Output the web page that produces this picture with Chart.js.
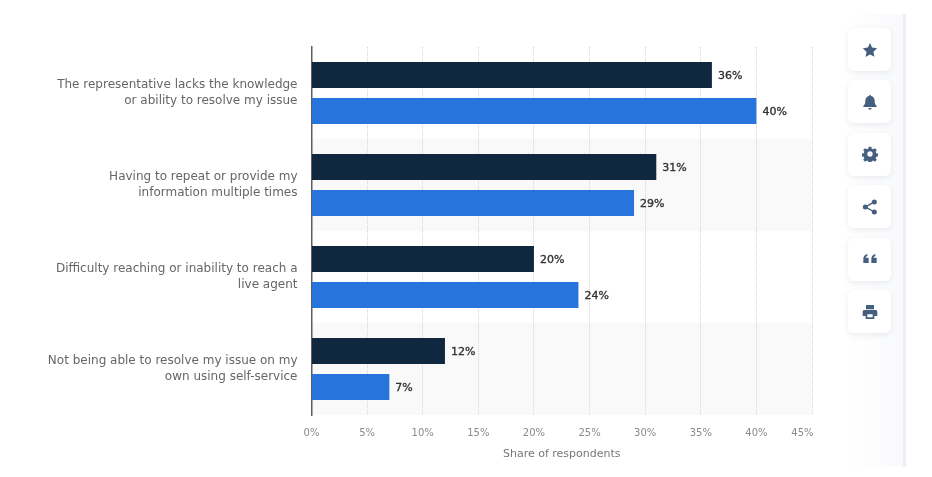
<!DOCTYPE html>
<html>
<head>
<meta charset="utf-8">
<script src="https://cdn.jsdelivr.net/npm/chart.js@4/dist/chart.umd.min.js"></script>
<style>
  html, body { margin: 0; padding: 0; background: #fff; width: 932px; height: 477px; overflow: hidden; }
  #chart { position: absolute; left: 0; top: 0; filter: blur(0.4px); }
  #rail { position: absolute; left: 846px; top: 14px; width: 57px; height: 453px; background: linear-gradient(to right, #fff, #f9fafc); border-right: 3px solid #eceef3; }
  .btn { position: absolute; left: 848px; width: 43px; height: 43px; background: #fff; border-radius: 6px; box-shadow: 0 2px 6px rgba(60, 80, 110, .10); display: flex; align-items: center; justify-content: center; filter: blur(0.4px); }
  .btn svg { width: 16px; height: 16px; fill: #45607f; }
</style>
</head>
<body>
<div id="rail"></div>
<canvas id="chart" width="932" height="477"></canvas>
<div id="buttons"></div>
<script>
const categories = [
    ['The representative lacks the knowledge', 'or ability to resolve my issue'],
    ['Having to repeat or provide my', 'information multiple times'],
    ['Difficulty reaching or inability to reach a', 'live agent'],
    ['Not being able to resolve my issue on my', 'own using self-service']
];
const darkValues = [36, 31, 20, 12];
const blueValues = [40, 29, 24, 7];
const axisMax = 45;
const axisStep = 5;
const axisTitle = 'Share of respondents';

const font = '"DejaVu Sans", sans-serif';

// --- Side buttons ---
const icons = [
    '<path d="M12 1.5l3.2 6.9 7.5.9-5.5 5.2 1.4 7.5L12 18.8l-6.6 3.7 1.4-7.5L1.3 9.3l7.5-.9z"/>',
    '<path d="M12 1.5c-.9 0-1.5.6-1.5 1.4C7 3.6 5 6.4 5 10c0 4-1 6-3 8v1.5h20V18c-2-2-3-4-3-8 0-3.6-2-6.4-5.5-7.1 0-.8-.6-1.4-1.5-1.4zM9.5 21a2.5 2.5 0 0 0 5 0z"/>',
    '<path fill-rule="evenodd" d="M10 1h4l.6 3 2.2.9 2.6-1.7 2.8 2.8-1.7 2.6.9 2.2 3 .6v4l-3 .6-.9 2.2 1.7 2.6-2.8 2.8-2.6-1.7-2.2.9-.6 3h-4l-.6-3-2.2-.9-2.6 1.7-2.8-2.8 1.7-2.6-.9-2.2-3-.6v-4l3-.6.9-2.2-1.7-2.6 2.8-2.8 2.6 1.7 2.2-.9zM12 8a4 4 0 1 0 0 8 4 4 0 0 0 0-8z"/>',
    '<circle cx="18.5" cy="4.5" r="3.8"/><circle cx="18.5" cy="19.5" r="3.8"/><circle cx="5" cy="12" r="3.8"/><path d="M5 11l13-7.5 1 1.7L6 12.9zM6 11.1l13 7.5-1 1.7L5 13z"/>',
    '<path d="M2 12c0-4 2-6.5 6-7.5v3c-1.500.5-2.300 1.300-2.500 2.500H10v8H2zM14 12c0-4 2-6.500 6-7.500v3c-1.500.5-2.300 1.300-2.500 2.500H22v8h-8z"/>',
    '<path fill-rule="evenodd" d="M6 1.500h12V8H6zM3.500 9h17A2.500 2.500 0 0 1 23 11.500V18h-4.500v4.500h-13V18H1v-6.500A2.500 2.500 0 0 1 3.500 9zM8 15.500V20h8v-4.500z"/>'
];
const buttons = document.getElementById('buttons');
icons.forEach((icon, i) => {
    const btn = document.createElement('div');
    btn.className = 'btn';
    btn.style.top = (28 + i * 52.4) + 'px';
    btn.innerHTML = '<svg viewBox="0 0 24 24">' + icon + '</svg>';
    buttons.appendChild(btn);
});

// --- Alternating bands behind the grid ---
const bandsPlugin = {
    id: 'bands',
    beforeDraw(chart) {
        const { ctx, chartArea: area, scales } = chart;
        const step = area.height / categories.length;
        ctx.save();
        ctx.fillStyle = '#f9f9f9';
        categories.forEach((c, i) => {
            if (i % 2 === 1) {
                const center = scales.y.getPixelForTick(i);
                ctx.fillRect(area.left, center - step / 2, area.width, step);
            }
        });
        ctx.restore();
    }
};

// --- Percent labels at the bar ends ---
const valueLabelsPlugin = {
    id: 'valueLabels',
    afterDatasetsDraw(chart) {
        const { ctx } = chart;
        ctx.save();
        ctx.font = '11px ' + font;
        ctx.fillStyle = '#333333';
        ctx.strokeStyle = '#333333';
        ctx.lineWidth = 0.35;
        ctx.textAlign = 'left';
        ctx.textBaseline = 'middle';
        chart.data.datasets.forEach((ds, d) => {
            chart.getDatasetMeta(d).data.forEach((bar, i) => {
                ctx.fillText(ds.data[i] + '%', bar.x + 6, bar.y + 1);
                ctx.strokeText(ds.data[i] + '%', bar.x + 6, bar.y + 1);
            });
        });
        ctx.restore();
    }
};

new Chart(document.getElementById('chart'), {
    type: 'bar',
    data: {
        labels: categories,
        datasets: [
            { label: 'Dark series', data: darkValues, backgroundColor: '#10283f' },
            { label: 'Blue series', data: blueValues, backgroundColor: '#2874dd' }
        ]
    },
    options: {
        indexAxis: 'y',
        responsive: false,
        animation: false,
        devicePixelRatio: 1,
        categoryPercentage: 0.783,
        barPercentage: 0.722,
        layout: { padding: { top: 47, right: 120, bottom: 16, left: 0 } },
        plugins: { legend: { display: false }, tooltip: { enabled: false } },
        scales: {
            x: {
                min: 0,
                max: axisMax,
                afterFit(scale) { scale.height = 46; },
                border: { display: false, dash: [1, 1] },
                grid: { color: '#d4d4d4', drawTicks: false, tickLength: 0 },
                ticks: {
                    stepSize: axisStep,
                    maxRotation: 0,
                    padding: 12,
                    color: '#8a8a8a',
                    font: { family: font, size: 10 },
                    // the last label sits inside the plot edge, the spaces pull it left
                    callback: v => v === axisMax ? v + '%\u00a0\u00a0\u00a0\u00a0\u00a0\u00a0' : v + '%'
                },
                title: {
                    display: true,
                    text: axisTitle,
                    color: '#777777',
                    padding: { top: 7, bottom: 0 },
                    font: { family: font, size: 11 }
                }
            },
            y: {
                afterFit(scale) { scale.width = 311.5; },
                border: { display: true, color: '#5f5f5f', width: 1.5 },
                grid: { display: false, drawTicks: false },
                ticks: {
                    padding: 14,
                    color: '#666666',
                    font: { family: font, size: 12, lineHeight: 1.33 }
                }
            }
        }
    },
    plugins: [bandsPlugin, valueLabelsPlugin]
});
</script>
</body>
</html>
